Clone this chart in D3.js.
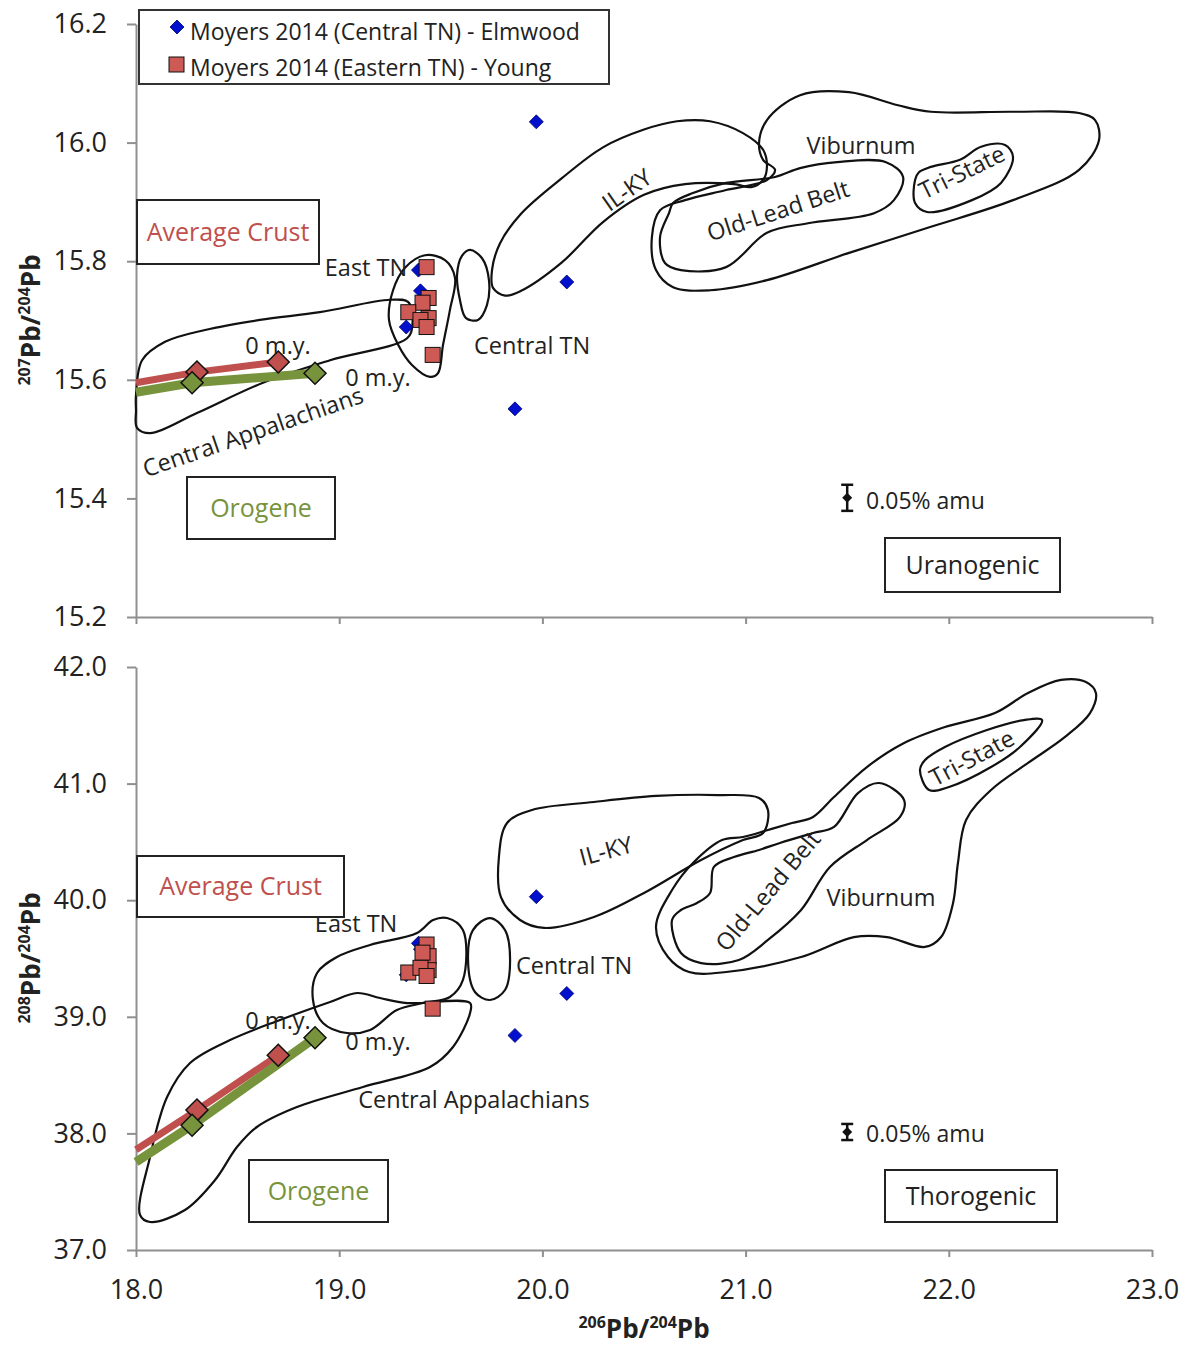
<!DOCTYPE html>
<html>
<head>
<meta charset="utf-8">
<script src="https://cdn.jsdelivr.net/npm/d3@7"></script>
<style>
  body { margin: 0; background: #fff; }
  text { font-family: 'Open Sans', sans-serif; }
</style>
</head>
<body>
<div id="chart"></div>
<script>
// ---- data ----
const xTicks = [18, 19, 20, 21, 22, 23];
const topTicks = [15.2, 15.4, 15.6, 15.8, 16.0, 16.2];
const botTicks = [37, 38, 39, 40, 41, 42];

// Moyers 2014 (Central TN) - Elmwood
const elmX = [19.97, 20.12, 19.865, 19.39, 19.40, 19.33];
const elm207 = [16.035, 15.765, 15.551, 15.785, 15.750, 15.689];
const elm208 = [40.03, 39.20, 38.84, 39.63, 39.58, 39.36];

// Moyers 2014 (Eastern TN) - Young
const youngX = [19.43, 19.44, 19.41, 19.34, 19.44, 19.40, 19.43, 19.46];
const young207 = [15.790, 15.738, 15.730, 15.714, 15.704, 15.701, 15.689, 15.642];
const young208 = [39.62, 39.52, 39.55, 39.38, 39.40, 39.42, 39.35, 39.07];

// growth curves (last point = 0 m.y.)
const crustX = [18.0, 18.30, 18.70];
const crust207 = [15.595, 15.613, 15.630];
const crust208 = [37.86, 38.20, 38.67];
const orogeneX = [18.0, 18.276, 18.881];
const orogene207 = [15.579, 15.595, 15.611];
const orogene208 = [37.755, 38.07, 38.82];

// ore-field outlines, 207Pb/204Pb panel
const centralAppTop = [[18.0,15.574],[18.03,15.633],[18.143,15.664],[18.34,15.684],[18.61,15.701],[18.905,15.714],[19.25,15.735],[19.34,15.731],[19.36,15.692],[19.334,15.670],[18.955,15.633],[18.625,15.595],[18.30,15.544],[18.07,15.510],[18.005,15.519],[18.0,15.549]];
const eastTnTop = [[19.422,15.810],[19.521,15.802],[19.57,15.772],[19.545,15.718],[19.511,15.659],[19.486,15.611],[19.447,15.605],[19.358,15.625],[19.29,15.659],[19.245,15.701],[19.265,15.751],[19.324,15.789]];
const centralTnTop = [[19.644,15.819],[19.703,15.805],[19.737,15.768],[19.727,15.726],[19.683,15.701],[19.624,15.704],[19.594,15.735],[19.58,15.777],[19.604,15.809]];
const ilkyTop = [[19.752,15.785],[19.791,15.830],[19.895,15.880],[20.096,15.940],[20.298,15.992],[20.5,16.022],[20.662,16.036],[20.825,16.036],[20.987,16.016],[21.086,15.988],[21.105,15.959],[21.086,15.937],[21.027,15.925],[20.943,15.930],[20.702,15.930],[20.5,15.912],[20.298,15.866],[20.096,15.798],[19.895,15.750],[19.816,15.742],[19.757,15.755]];
const viburnumTop = [[20.579,15.886],[20.539,15.841],[20.559,15.785],[20.643,15.756],[20.825,15.751],[21.105,15.768],[21.509,15.814],[21.912,15.858],[22.316,15.903],[22.641,15.954],[22.739,16.004],[22.72,16.038],[22.641,16.050],[22.316,16.052],[21.912,16.052],[21.75,16.063],[21.509,16.085],[21.268,16.080],[21.105,16.038],[21.066,15.999],[21.086,15.971],[21.145,15.954],[21.105,15.937],[20.904,15.920],[20.702,15.903]];
const oldLeadTop = [[20.623,15.881],[20.579,15.841],[20.603,15.797],[20.682,15.785],[20.904,15.790],[21.105,15.848],[21.307,15.864],[21.632,15.881],[21.73,15.903],[21.775,15.942],[21.691,15.967],[21.45,15.967],[21.268,15.957],[21.145,15.942],[20.904,15.932],[20.741,15.915],[20.643,15.898]];
const triStateTop = [[21.834,15.937],[21.834,15.898],[21.893,15.883],[22.114,15.903],[22.257,15.932],[22.316,15.976],[22.277,15.996],[22.159,15.993],[22.055,15.971],[21.912,15.959],[21.853,15.950]];

// ore-field outlines, 208Pb/204Pb panel
const centralAppBot = [[18.02,37.30],[18.069,37.798],[18.153,38.312],[18.266,38.604],[18.463,38.801],[18.709,38.973],[18.955,39.127],[19.088,39.204],[19.201,39.161],[19.334,39.118],[19.644,39.118],[19.644,39.033],[19.56,38.741],[19.447,38.569],[19.117,38.398],[18.792,38.226],[18.595,38.055],[18.497,37.883],[18.389,37.600],[18.241,37.343],[18.069,37.240]];
const eastTnBot = [[19.531,39.847],[19.609,39.744],[19.609,39.316],[19.545,39.170],[19.412,39.118],[19.284,39.058],[19.152,38.887],[19.038,38.861],[18.92,38.947],[18.871,39.144],[18.891,39.376],[18.989,39.513],[19.152,39.616],[19.383,39.719],[19.462,39.830]];
const centralTnBot = [[19.742,39.847],[19.816,39.744],[19.841,39.487],[19.816,39.230],[19.742,39.144],[19.668,39.213],[19.634,39.487],[19.658,39.744]];
const ilkyBot = [[19.826,40.662],[19.786,40.370],[19.796,40.027],[19.89,39.830],[20.008,39.762],[20.254,39.856],[20.5,40.062],[20.781,40.345],[20.987,40.516],[21.086,40.576],[21.11,40.774],[21.066,40.877],[20.864,40.902],[20.559,40.894],[20.254,40.842],[19.949,40.774]];
const viburnumBot = [[20.559,39.770],[20.618,39.513],[20.722,39.384],[20.904,39.384],[21.273,39.513],[21.533,39.684],[21.696,39.684],[21.883,39.599],[21.962,39.684],[22.021,39.976],[22.045,40.319],[22.085,40.688],[22.208,40.945],[22.39,41.177],[22.572,41.400],[22.695,41.605],[22.724,41.777],[22.675,41.871],[22.552,41.889],[22.39,41.777],[22.227,41.605],[21.981,41.485],[21.78,41.348],[21.597,41.142],[21.435,40.885],[21.332,40.714],[21.228,40.662],[21.11,40.602],[20.987,40.542],[20.884,40.516],[20.741,40.319],[20.638,40.087]];
const oldLeadBot = [[20.638,39.830],[20.682,39.547],[20.781,39.461],[20.967,39.487],[21.11,39.659],[21.273,39.916],[21.415,40.285],[21.597,40.516],[21.76,40.714],[21.78,40.859],[21.657,41.005],[21.553,40.919],[21.435,40.628],[21.332,40.576],[21.169,40.491],[21.066,40.431],[20.943,40.370],[20.844,40.285],[20.825,40.062],[20.761,39.976],[20.682,39.916]];
const triStateBot = [[21.858,41.117],[21.903,40.945],[22.001,40.971],[22.208,41.142],[22.35,41.314],[22.459,41.545],[22.37,41.545],[22.188,41.460],[21.981,41.314],[21.883,41.202]];

// field names and where they sit (data units), rotation in degrees
const topLabels = [
  { t: 'East TN', x: 19.132, y: 15.789, r: 0 },
  { t: 'Central TN', x: 19.949, y: 15.657, r: 0 },
  { t: '0 m.y.', x: 18.699, y: 15.657, r: 0 },
  { t: '0 m.y.', x: 19.191, y: 15.603, r: 0 },
  { t: 'Central Appalachians', x: 18.576, y: 15.512, r: -19 },
  { t: 'IL-KY', x: 20.416, y: 15.920, r: -35 },
  { t: 'Viburnum', x: 21.568, y: 15.994, r: 0 },
  { t: 'Old-Lead Belt', x: 21.16, y: 15.885, r: -18 },
  { t: 'Tri-State', x: 22.065, y: 15.950, r: -26 }
];
const botLabels = [
  { t: 'East TN', x: 19.083, y: 39.796, r: 0 },
  { t: 'Central TN', x: 20.156, y: 39.436, r: 0 },
  { t: '0 m.y.', x: 18.699, y: 38.964, r: 0 },
  { t: '0 m.y.', x: 19.191, y: 38.784, r: 0 },
  { t: 'Central Appalachians', x: 19.663, y: 38.286, r: 0 },
  { t: 'IL-KY', x: 20.313, y: 40.422, r: -15 },
  { t: 'Old-Lead Belt', x: 21.11, y: 40.079, r: -50 },
  { t: 'Viburnum', x: 21.666, y: 40.019, r: 0 },
  { t: 'Tri-State', x: 22.114, y: 41.220, r: -28 }
];

// ---- layout ----
const width = 1187, height = 1350;
const red = '#c0504d', green = '#77933c', axisGrey = '#8f8f8f';

const svg = d3.select('#chart')
  .append('svg')
  .attr('width', width)
  .attr('height', height);

const x = d3.scaleLinear().domain([18, 23]).range([136, 1152]);
const yTop = d3.scaleLinear().domain([15.2, 16.2]).range([617, 24]);
const yBot = d3.scaleLinear().domain([37, 42]).range([1250, 667]);

const zip = (xs, ys) => xs.map((v, i) => [v, ys[i]]);

const panels = [
  {
    y: yTop, ticks: topTicks, showX: false,
    fields: [centralAppTop, eastTnTop, centralTnTop, ilkyTop, viburnumTop, oldLeadTop, triStateTop],
    labels: topLabels,
    crust: zip(crustX, crust207), orogene: zip(orogeneX, orogene207),
    elm: zip(elmX, elm207), young: zip(youngX, young207),
    err: { x: 21.5, y: 15.401, e: 0.022 }, errText: { x: 21.593, y: 15.396 },
    boxes: [
      { t: 'Average Crust', x0: 137, y0: 200, x1: 319, y1: 264, c: red },
      { t: 'Orogene', x0: 187, y0: 477, x1: 335, y1: 539, c: green },
      { t: 'Uranogenic', x0: 885, y0: 538, x1: 1060, y1: 592, c: '#222' }
    ],
    title: '207', titleY: 320
  },
  {
    y: yBot, ticks: botTicks, showX: true,
    fields: [centralAppBot, eastTnBot, centralTnBot, ilkyBot, viburnumBot, oldLeadBot, triStateBot],
    labels: botLabels,
    crust: zip(crustX, crust208), orogene: zip(orogeneX, orogene208),
    elm: zip(elmX, elm208), young: zip(youngX, young208),
    err: { x: 21.5, y: 38.012, e: 0.069 }, errText: { x: 21.593, y: 37.995 },
    boxes: [
      { t: 'Average Crust', x0: 137, y0: 856, x1: 344, y1: 917, c: red },
      { t: 'Orogene', x0: 249, y0: 1160, x1: 388, y1: 1222, c: green },
      { t: 'Thorogenic', x0: 885, y0: 1170, x1: 1057, y1: 1222, c: '#222' }
    ],
    title: '208', titleY: 958
  }
];

const diamond = s => `M0,${-s}L${s},0L0,${s}L${-s},0Z`;

// bold "Pb" title with superscript mass numbers
function isoTitle(sel, mass) {
  sel.style('font-weight', 'bold').style('font-size', '26px').attr('fill', '#222');
  sel.append('tspan').text(mass).style('font-size', '16px').attr('dy', '-10');
  sel.append('tspan').text('Pb/').attr('dy', '10');
  sel.append('tspan').text('204').style('font-size', '16px').attr('dy', '-10');
  sel.append('tspan').text('Pb').attr('dy', '10');
}

panels.forEach(function (p) {
  const g = svg.append('g');
  const y0 = p.y.range()[0];

  // axes
  const yAxis = g.append('g')
    .attr('transform', 'translate(' + x(18) + ',0)')
    .call(d3.axisLeft(p.y).tickValues(p.ticks).tickFormat(d3.format('.1f'))
      .tickSize(9).tickSizeOuter(0).tickPadding(20));
  const xAxis = g.append('g')
    .attr('transform', 'translate(0,' + y0 + ')')
    .call(d3.axisBottom(x).tickValues(xTicks)
      .tickFormat(p.showX ? d3.format('.1f') : '')
      .tickSize(7).tickSizeOuter(0).tickPadding(23));
  [yAxis, xAxis].forEach(a => {
    a.select('.domain').attr('stroke', axisGrey).attr('stroke-width', 2);
    a.selectAll('.tick line').attr('stroke', axisGrey).attr('stroke-width', 2);
    a.selectAll('.tick text').attr('fill', '#222').style('font-size', '27px')
      .style('font-family', "'Open Sans', sans-serif");
  });

  // y axis title
  g.append('text')
    .attr('transform', 'translate(40,' + p.titleY + ') rotate(-90)')
    .attr('text-anchor', 'middle')
    .call(isoTitle, p.title);

  // ore fields
  const outline = d3.line()
    .x(d => x(d[0]))
    .y(d => p.y(d[1]))
    .curve(d3.curveCatmullRomClosed.alpha(0.5));
  g.selectAll('.field')
    .data(p.fields)
    .enter()
    .append('path')
    .attr('class', 'field')
    .attr('d', outline)
    .attr('fill', 'none')
    .attr('stroke', '#111')
    .attr('stroke-width', 2.2);

  // growth curves
  const curve = d3.line().x(d => x(d[0])).y(d => p.y(d[1]));
  [[p.crust, red, 7], [p.orogene, green, 9]].forEach(function (c) {
    g.append('path')
      .attr('d', curve(c[0]))
      .attr('fill', 'none')
      .attr('stroke', c[1])
      .attr('stroke-width', c[2]);
  });
  [[p.crust, red], [p.orogene, green]].forEach(function (c) {
    g.selectAll(null)
      .data(c[0].slice(1))
      .enter()
      .append('path')
      .attr('d', diamond(11))
      .attr('transform', d => 'translate(' + x(d[0]) + ',' + p.y(d[1]) + ')')
      .attr('fill', c[1])
      .attr('stroke', '#111')
      .attr('stroke-width', 1.5);
  });

  // samples
  g.selectAll('.elm')
    .data(p.elm)
    .enter()
    .append('path')
    .attr('class', 'elm')
    .attr('d', diamond(7))
    .attr('transform', d => 'translate(' + x(d[0]) + ',' + p.y(d[1]) + ')')
    .attr('fill', '#0010cc')
    .attr('stroke', '#000066')
    .attr('stroke-width', 0.8);
  g.selectAll('.young')
    .data(p.young)
    .enter()
    .append('rect')
    .attr('class', 'young')
    .attr('x', d => x(d[0]) - 7.5)
    .attr('y', d => p.y(d[1]) - 7.5)
    .attr('width', 15)
    .attr('height', 15)
    .attr('fill', '#cd5a55')
    .attr('stroke', '#111')
    .attr('stroke-width', 1);

  // field labels
  g.selectAll('.lbl')
    .data(p.labels)
    .enter()
    .append('text')
    .attr('class', 'lbl')
    .attr('transform', d => 'translate(' + x(d.x) + ',' + p.y(d.y) + ') rotate(' + d.r + ')')
    .attr('text-anchor', 'middle')
    .attr('dy', '0.35em')
    .attr('fill', '#222')
    .style('font-size', '23.5px')
    .text(d => d.t);

  // precision bar
  const ex = x(p.err.x);
  const eTop = p.y(p.err.y + p.err.e), eBot = p.y(p.err.y - p.err.e);
  g.append('line').attr('x1', ex).attr('x2', ex).attr('y1', eTop).attr('y2', eBot)
    .attr('stroke', '#111').attr('stroke-width', 2.5);
  [eTop, eBot].forEach(v => g.append('line')
    .attr('x1', ex - 6).attr('x2', ex + 6).attr('y1', v).attr('y2', v)
    .attr('stroke', '#111').attr('stroke-width', 2.5));
  g.append('path').attr('d', diamond(5))
    .attr('transform', 'translate(' + ex + ',' + p.y(p.err.y) + ')').attr('fill', '#111');
  g.append('text')
    .attr('x', x(p.errText.x)).attr('y', p.y(p.errText.y))
    .attr('dy', '0.35em').attr('fill', '#222').style('font-size', '23px')
    .text('0.05% amu');

  // text boxes
  p.boxes.forEach(function (b) {
    g.append('rect')
      .attr('x', b.x0).attr('y', b.y0)
      .attr('width', b.x1 - b.x0).attr('height', b.y1 - b.y0)
      .attr('fill', '#fff').attr('stroke', '#222').attr('stroke-width', 2);
    g.append('text')
      .attr('x', (b.x0 + b.x1) / 2).attr('y', (b.y0 + b.y1) / 2)
      .attr('text-anchor', 'middle').attr('dy', '0.35em')
      .attr('fill', b.c).style('font-size', '25px')
      .text(b.t);
  });
});

// x axis title
svg.append('text')
  .attr('x', 644).attr('y', 1338)
  .attr('text-anchor', 'middle')
  .call(isoTitle, '206');

// legend
const legend = svg.append('g').attr('id', 'legend');
legend.append('rect')
  .attr('x', 139).attr('y', 10).attr('width', 470).attr('height', 74)
  .attr('fill', '#fff').attr('stroke', '#333').attr('stroke-width', 2);
legend.append('path').attr('d', diamond(7))
  .attr('transform', 'translate(177,27)')
  .attr('fill', '#0010cc').attr('stroke', '#000066').attr('stroke-width', 0.8);
legend.append('rect')
  .attr('x', 169).attr('y', 57).attr('width', 15).attr('height', 15)
  .attr('fill', '#cd5a55').attr('stroke', '#111');
legend.append('text').attr('x', 190).attr('y', 32).attr('dy', '0.35em')
  .attr('fill', '#222').style('font-size', '23px')
  .text('Moyers 2014 (Central TN) - Elmwood');
legend.append('text').attr('x', 190).attr('y', 68).attr('dy', '0.35em')
  .attr('fill', '#222').style('font-size', '23px')
  .text('Moyers 2014 (Eastern TN) - Young');
</script>
</body>
</html>
